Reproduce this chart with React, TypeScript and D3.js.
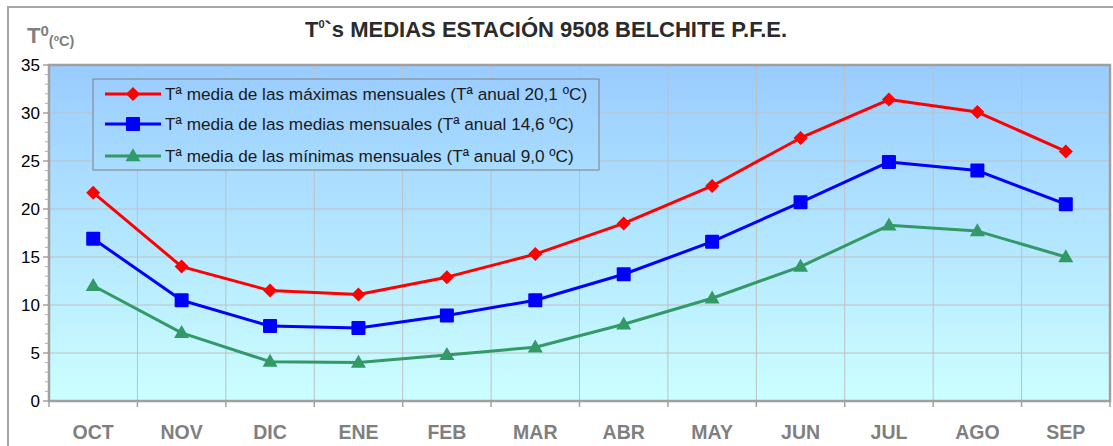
import React from "react";
import * as d3 from "d3";

const months = ["OCT", "NOV", "DIC", "ENE", "FEB", "MAR", "ABR", "MAY", "JUN", "JUL", "AGO", "SEP"];
const maxTemps = [21.7, 14.0, 11.5, 11.1, 12.9, 15.3, 18.5, 22.4, 27.4, 31.4, 30.1, 26.0];
const meanTemps = [16.9, 10.5, 7.8, 7.6, 8.9, 10.5, 13.2, 16.6, 20.7, 24.9, 24.0, 20.5];
const minTemps = [12.0, 7.1, 4.1, 4.0, 4.8, 5.6, 8.0, 10.7, 14.0, 18.3, 17.7, 15.0];
const yTicks = [0, 5, 10, 15, 20, 25, 30, 35];
const legendLabels = [
  "Tª media de las máximas mensuales (Tª anual 20,1 ºC)",
  "Tª media de las medias mensuales (Tª anual 14,6 ºC)",
  "Tª media de las mínimas mensuales (Tª anual 9,0 ºC)",
];
const seriesColors = ["#FF0000", "#0000FF", "#339966"];
const markerKinds = ["diamond", "square", "triangle"];

const W = 1113;
const H = 446;
const PL = 49, PR = 1110, PT = 65, PB = 401;

function Marker({ kind, cx, cy, color }: { kind: string; cx: number; cy: number; color: string }) {
  if (kind === "diamond") {
    const r = 7;
    return <path d={`M${cx},${cy - r}L${cx + r},${cy}L${cx},${cy + r}L${cx - r},${cy}Z`} fill={color} />;
  }
  if (kind === "square") {
    const s = 7;
    return <rect x={cx - s} y={cy - s} width={2 * s} height={2 * s} rx={1} fill={color} />;
  }
  const w = 7.5, h = 13;
  return <path d={`M${cx},${cy - h * 0.6}L${cx + w},${cy + h * 0.4}L${cx - w},${cy + h * 0.4}Z`} fill={color} />;
}

export default function App() {
  const x = d3.scaleBand<string>().domain(months).range([PL, PR]).paddingInner(0).paddingOuter(0);
  const y = d3.scaleLinear().domain([0, 35]).range([PB, PT]);
  const cx = (m: string) => (x(m) as number) + x.bandwidth() / 2;
  const line = d3
    .line<number>()
    .x((_, i) => cx(months[i]))
    .y((d) => y(d));
  const series = [maxTemps, meanTemps, minTemps];
  const minorTicks = d3.range(0, 36, 1).filter((v) => v % 5 !== 0);
  const boundaries = d3.range(0, months.length + 1).map((i) => PL + i * x.bandwidth());

  const lgX = 93, lgY = 79, lgW = 506, lgH = 91;
  const rowY = [94, 124, 156];

  return (
    <svg
      width={W}
      height={H}
      style={{ position: "absolute", left: 0, top: 0, background: "#fff" }}
      fontFamily="Arial, 'Liberation Sans', sans-serif"
    >
      <defs>
        <linearGradient id="bg" gradientUnits="userSpaceOnUse" x1={0} y1={PT} x2={0} y2={PB}>
          <stop offset="0" stopColor="#99CCFF" />
          <stop offset="1" stopColor="#CCFFFF" />
        </linearGradient>
      </defs>
      {/* outer chart frame */}
      <rect x={8} y={7} width={W + 10} height={H + 10} fill="none" stroke="#A6A6A6" strokeWidth={2} />

      {/* title */}
      <text x={546} y={37} textAnchor="middle" fontSize={22} fontWeight="bold" fill="#2b2b2b">
        T<tspan fontSize={11} dy={-9}>0</tspan>
        <tspan dy={9}>`s MEDIAS ESTACIÓN 9508 BELCHITE P.F.E.</tspan>
      </text>

      {/* y-axis title */}
      <text x={27} y={43} fontSize={22} fontWeight="bold" fill="#808080">
        T<tspan fontSize={15} dy={-7}>0</tspan>
        <tspan fontSize={14.5} dy={10}>(ºC)</tspan>
      </text>

      {/* plot background */}
      <rect x={PL} y={PT} width={PR - PL} height={PB - PT} fill="url(#bg)" />

      {/* gridlines */}
      {yTicks.slice(1, -1).map((t) => (
        <line key={"h" + t} x1={PL} x2={PR} y1={y(t)} y2={y(t)} stroke="#C0C0C0" strokeWidth={1} />
      ))}
      {boundaries.slice(1, -1).map((bx, i) => (
        <line key={"v" + i} x1={bx} x2={bx} y1={PT} y2={PB} stroke="#C0C0C0" strokeWidth={1} />
      ))}

      {/* plot border */}
      <rect x={PL} y={PT} width={PR - PL} height={PB - PT} fill="none" stroke="#A0A0A0" strokeWidth={2.5} />

      {/* y ticks */}
      {yTicks.map((t) => (
        <g key={"yt" + t}>
          <line x1={PL - 6} x2={PL} y1={y(t)} y2={y(t)} stroke="#A0A0A0" strokeWidth={1.5} />
          <text x={40} y={y(t) + 6} textAnchor="end" fontSize={17} fill="#000">
            {t}
          </text>
        </g>
      ))}
      {minorTicks.map((t) => (
        <line key={"mt" + t} x1={PL - 4} x2={PL} y1={y(t)} y2={y(t)} stroke="#B0B0B0" strokeWidth={1} />
      ))}

      {/* x ticks */}
      {boundaries.map((bx, i) => (
        <line key={"xt" + i} x1={bx} x2={bx} y1={PB} y2={PB + 6} stroke="#A0A0A0" strokeWidth={1.5} />
      ))}
      {months.map((m) => (
        <text key={m} x={cx(m)} y={439} textAnchor="middle" fontSize={19.5} fontWeight="bold" fill="#7f7f7f">
          {m}
        </text>
      ))}

      {/* series */}
      {series.map((s, si) => (
        <g key={"s" + si}>
          <path d={line(s) as string} fill="none" stroke={seriesColors[si]} strokeWidth={3} strokeLinejoin="round" />
          {s.map((v, i) => (
            <Marker key={i} kind={markerKinds[si]} cx={cx(months[i])} cy={y(v)} color={seriesColors[si]} />
          ))}
        </g>
      ))}

      {/* legend */}
      <rect x={lgX} y={lgY} width={lgW} height={lgH} fill="url(#bg)" stroke="#808080" strokeWidth={1} />
      {legendLabels.map((lab, i) => (
        <g key={"lg" + i}>
          <line x1={105} x2={161} y1={rowY[i]} y2={rowY[i]} stroke={seriesColors[i]} strokeWidth={3} />
          <Marker kind={markerKinds[i]} cx={133} cy={rowY[i]} color={seriesColors[i]} />
          <text x={165} y={rowY[i] + 6} fontSize={17.2} fill="#1a1a1a">
            {lab}
          </text>
        </g>
      ))}
    </svg>
  );
}
